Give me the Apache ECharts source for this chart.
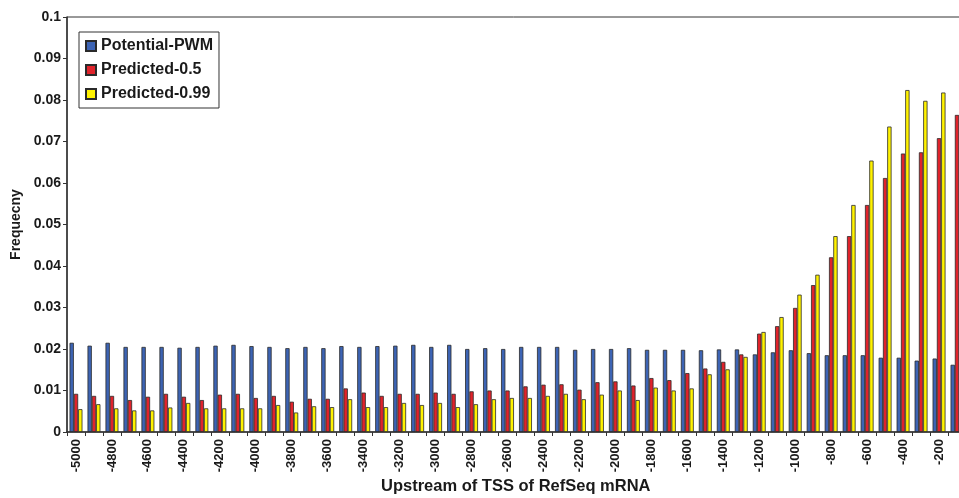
<!DOCTYPE html>
<html>
<head>
<meta charset="utf-8">
<script src="https://cdn.jsdelivr.net/npm/echarts@6/dist/echarts.min.js"></script>
<style>
  html, body { margin: 0; padding: 0; background: #fff; }
  #chart { width: 959px; height: 498px; }
</style>
</head>
<body>
<div id="chart"></div>
<script>
// Distance upstream of the TSS (bp), one bin per 100 bp
const positions = [
  -5000, -4900, -4800, -4700, -4600, -4500, -4400, -4300, -4200, -4100,
  -4000, -3900, -3800, -3700, -3600, -3500, -3400, -3300, -3200, -3100,
  -3000, -2900, -2800, -2700, -2600, -2500, -2400, -2300, -2200, -2100,
  -2000, -1900, -1800, -1700, -1600, -1500, -1400, -1300, -1200, -1100,
  -1000, -900, -800, -700, -600, -500, -400, -300, -200, -100
];

const potentialPWM = [
  0.0215, 0.0208, 0.0215, 0.0205, 0.0205, 0.0205, 0.0203, 0.0205, 0.0208, 0.0210,
  0.0207, 0.0205, 0.0202, 0.0205, 0.0202, 0.0207, 0.0205, 0.0207, 0.0208, 0.0210,
  0.0205, 0.0210, 0.0200, 0.0202, 0.0200, 0.0205, 0.0205, 0.0205, 0.0198, 0.0200,
  0.0200, 0.0202, 0.0198, 0.0198, 0.0198, 0.0197, 0.0199, 0.0199, 0.0187, 0.0192,
  0.0197, 0.0190, 0.0185, 0.0185, 0.0185, 0.0179, 0.0179, 0.0172, 0.0177, 0.0162
];

const predicted05 = [
  0.0092, 0.0087, 0.0087, 0.0077, 0.0085, 0.0092, 0.0085, 0.0077, 0.0090, 0.0092,
  0.0082, 0.0087, 0.0073, 0.0080, 0.0080, 0.0105, 0.0095, 0.0087, 0.0092, 0.0092,
  0.0095, 0.0092, 0.0098, 0.0100, 0.0100, 0.0110, 0.0114, 0.0115, 0.0102, 0.0120,
  0.0122, 0.0112, 0.0130, 0.0125, 0.0142, 0.0153, 0.0169, 0.0187, 0.0237, 0.0255,
  0.0299, 0.0354, 0.0421, 0.0472, 0.0547, 0.0612, 0.0671, 0.0674, 0.0708, 0.0764
];

const predicted099 = [
  0.0055, 0.0067, 0.0057, 0.0052, 0.0052, 0.0059, 0.0070, 0.0057, 0.0057, 0.0057,
  0.0057, 0.0065, 0.0047, 0.0062, 0.0060, 0.0079, 0.0060, 0.0060, 0.0070, 0.0065,
  0.0070, 0.0060, 0.0067, 0.0079, 0.0082, 0.0082, 0.0087, 0.0092, 0.0079, 0.0090,
  0.0100, 0.0077, 0.0107, 0.0100, 0.0105, 0.0139, 0.0151, 0.0181, 0.0241, 0.0277,
  0.0331, 0.0379, 0.0472, 0.0547, 0.0654, 0.0736, 0.0824, 0.0798, 0.0818, 0.0892
];

const seriesNames = ['Potential-PWM', 'Predicted-0.5', 'Predicted-0.99'];
const seriesColors = ['#3d64b4', '#e0232b', '#fff200'];
const seriesData = [potentialPWM, predicted05, predicted099];

const FONT = 'Liberation Sans, Arial, sans-serif';
const bold = (size) => ({ fontFamily: FONT, fontWeight: 'bold', fontSize: size, color: '#1a1a1a' });

const chart = echarts.init(document.getElementById('chart'), null, { renderer: 'canvas' });

chart.setOption({
  animation: false,
  backgroundColor: '#ffffff',
  grid: {
    left: 67, right: -7, top: 17, bottom: 66,
    outerBoundsMode: 'none',
    containLabel: false,
    show: true, borderColor: '#333', borderWidth: 1, backgroundColor: 'transparent'
  },
  legend: {
    orient: 'vertical',
    left: 79, top: 32,
    padding: [6, 6, 6, 6],
    itemGap: 8,
    itemWidth: 10, itemHeight: 10,
    icon: 'rect',
    borderColor: '#333', borderWidth: 1,
    backgroundColor: '#fff',
    textStyle: bold(16),
    data: seriesNames
  },
  xAxis: {
    type: 'category',
    data: positions,
    boundaryGap: true,
    axisLine: { lineStyle: { color: '#333', width: 1.5 } },
    axisTick: { show: true, length: 4, interval: 0, lineStyle: { color: '#333' } },
    axisLabel: Object.assign({ rotate: 90, interval: 1, margin: 7 }, bold(13)),
    splitLine: { show: false }
  },
  yAxis: {
    type: 'value',
    min: 0, max: 0.1, interval: 0.01,
    name: 'Frequecny',
    nameLocation: 'middle',
    nameGap: 42,
    nameTextStyle: bold(14),
    axisLine: { show: true, lineStyle: { color: '#333', width: 1.5 } },
    axisTick: { show: true, length: 4, lineStyle: { color: '#333' } },
    axisLabel: Object.assign({ margin: 6 }, bold(14)),
    splitLine: { show: false }
  },
  graphic: [{
    type: 'text',
    left: 381, top: 478,
    style: { text: 'Upstream of TSS of RefSeq mRNA', fontFamily: FONT, fontWeight: 'bold', fontSize: 16.5, fill: '#1a1a1a' }
  }],
  series: seriesNames.map((name, i) => ({
    name: name,
    type: 'bar',
    data: seriesData[i],
    barWidth: 4.3,
    barGap: '0%',
    itemStyle: { color: seriesColors[i], borderColor: '#2a2a2a', borderWidth: 0.8 }
  }))
});
</script>
</body>
</html>
